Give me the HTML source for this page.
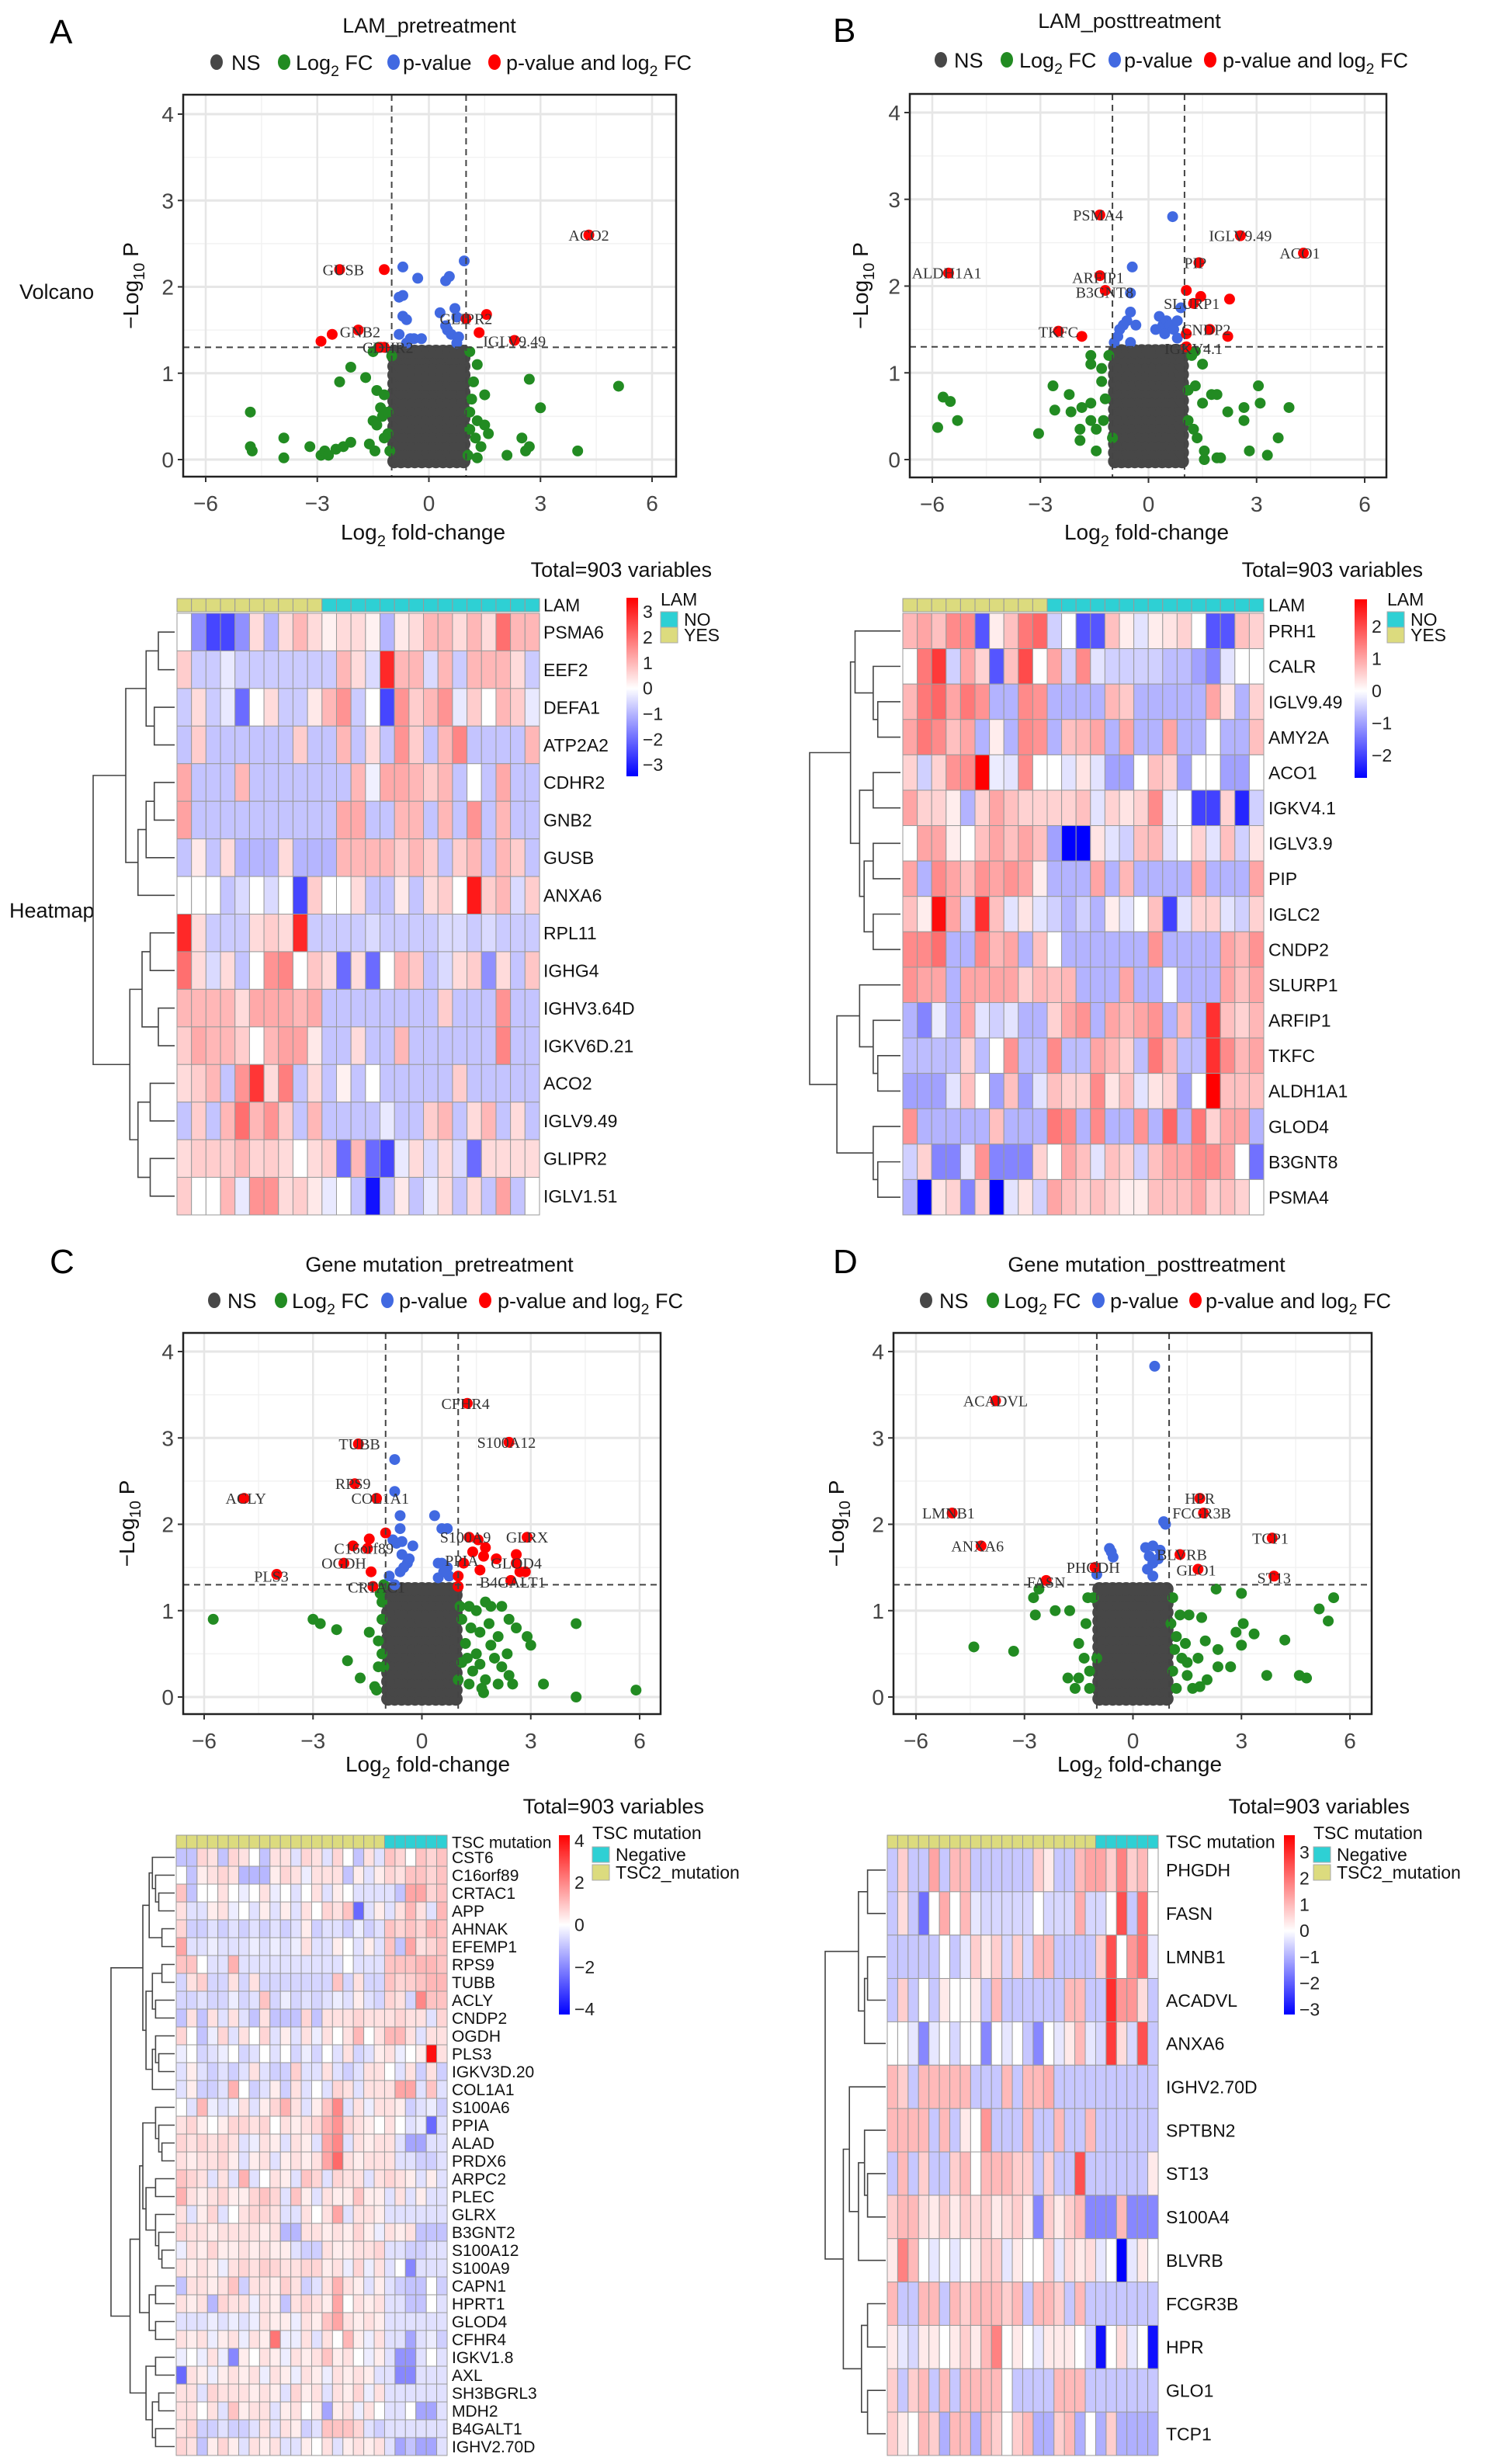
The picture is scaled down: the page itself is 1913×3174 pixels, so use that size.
<!DOCTYPE html>
<html><head><meta charset="utf-8">
<style>
html,body{margin:0;padding:0;background:#fff;}
svg{display:block;font-family:"Liberation Sans",sans-serif;}
</style></head>
<body>
<svg id="fig" xmlns="http://www.w3.org/2000/svg" width="1913" height="3174" viewBox="0 0 1913 3174">
<rect x="0" y="0" width="1913" height="3174" fill="#fff"/>
</svg>
<script>
/* ================= VOLCANO DATA ================= */
const volcanoXTicks = [-6, -3, 0, 3, 6];
const volcanoYTicks = [0, 1, 2, 3, 4];

const nsColsA = [-0.93,-0.75,-0.56,-0.38,-0.19,0,0.19,0.38,0.56,0.75,0.93];
const nsRowsA = [-0.02,0.08,0.18,0.28,0.38,0.48,0.58,0.68,0.78,0.88,0.98,1.08,1.18,1.25];
const nsColsB = [-0.93,-0.75,-0.56,-0.38,-0.19,0,0.19,0.38,0.56,0.75,0.93];
const nsRowsB = [-0.02,0.08,0.18,0.28,0.38,0.48,0.58,0.68,0.78,0.88,0.98,1.08,1.18,1.25];
const nsColsC = [-0.93,-0.75,-0.56,-0.38,-0.19,0,0.19,0.38,0.56,0.75,0.93];
const nsRowsC = [-0.02,0.08,0.18,0.28,0.38,0.48,0.58,0.68,0.78,0.88,0.98,1.08,1.18,1.25];
const nsColsD = [-0.93,-0.75,-0.56,-0.38,-0.19,0,0.19,0.38,0.56,0.75,0.93];
const nsRowsD = [-0.02,0.08,0.18,0.28,0.38,0.48,0.58,0.68,0.78,0.88,0.98,1.08,1.18,1.25];

const fcA = [[-4.8,0.55],[-4.8,0.15],[-4.75,0.1],[-3.9,0.25],[-3.9,0.02],[-3.2,0.15],[-2.9,0.05],[-2.8,0.1],[-2.7,0.05],[-2.5,0.12],[-2.3,0.15],[-2.1,0.2],[-2.4,0.9],[-2.1,1.07],[-1.7,0.95],[-1.6,0.18],[-1.45,0.1],[-1.5,0.45],[-1.4,0.8],[-1.3,0.6],[-1.2,0.75],[-1.4,0.4],[-1.25,0.5],[-1.1,0.3],[-1.2,0.25],[-1.0,1.2],[-1.5,1.25],[-1.35,1.3],[1.1,1.25],[1.3,1.1],[1.2,0.9],[1.15,0.7],[1.3,0.45],[1.1,0.35],[1.25,0.25],[1.4,0.15],[1.05,0.05],[1.5,0.4],[1.5,0.75],[1.6,0.3],[2.7,0.93],[3.0,0.6],[2.5,0.25],[2.7,0.15],[2.6,0.1],[2.1,0.05],[4.0,0.1],[5.1,0.85],[1.1,0.55],[1.3,0.02],[-1.1,0.55],[-1.05,0.1]];
const pvA = [[-0.7,2.23],[-0.3,2.1],[0.95,2.3],[0.45,2.07],[0.55,2.12],[-0.8,1.88],[-0.7,1.9],[-0.7,1.66],[-0.6,1.62],[-0.8,1.45],[-0.5,1.4],[-0.2,1.4],[-0.4,1.4],[0.3,1.7],[0.7,1.75],[0.75,1.65],[0.5,1.5],[0.6,1.45],[0.8,1.42],[0.75,1.35],[-0.6,1.35],[0.45,1.55]];
const bothA = [[4.3,2.6],[-2.4,2.2],[-1.2,2.2],[1.0,1.63],[1.55,1.68],[1.35,1.47],[2.3,1.38],[-1.9,1.5],[-2.6,1.45],[-2.9,1.37],[-1.2,1.3],[-1.3,1.3]];
const labelsA = [['ACO2',4.3,2.6],['GUSB',-2.3,2.2],['GLIPR2',1.0,1.63],['GNB2',-1.85,1.48],['CDHR2',-1.1,1.3],['IGLV9.49',2.3,1.37]];

const fcB = [[-5.7,0.72],[-5.5,0.67],[-5.85,0.37],[-5.3,0.45],[-3.05,0.3],[-2.65,0.85],[-2.6,0.57],[-2.15,0.55],[-2.2,0.75],[-1.85,0.6],[-1.6,0.65],[-1.9,0.35],[-1.9,0.22],[-1.6,0.45],[-1.45,0.35],[-1.45,0.1],[-1.3,0.9],[-1.2,0.7],[-1.1,1.2],[-1.6,1.2],[-1.3,1.05],[-1.25,0.45],[-1.0,0.25],[-1.6,1.1],[1.2,1.2],[1.5,1.1],[1.3,0.85],[1.1,0.8],[1.5,0.65],[1.75,0.75],[1.9,0.75],[2.2,0.55],[2.65,0.6],[2.65,0.45],[3.05,0.85],[3.1,0.65],[3.9,0.6],[3.6,0.25],[3.3,0.05],[2.8,0.1],[1.35,0.25],[1.55,0.1],[1.9,0.02],[2.0,0.02],[1.55,0.0],[1.1,0.45],[1.25,0.35],[1.3,1.25]];
const pvB = [[0.67,2.8],[-0.45,2.22],[-0.5,1.92],[-0.5,1.7],[-0.6,1.6],[-0.7,1.55],[-0.8,1.5],[-0.85,1.42],[-0.5,1.35],[0.3,1.65],[0.4,1.55],[0.5,1.6],[0.6,1.55],[0.2,1.5],[0.45,1.45],[0.7,1.5],[0.9,1.75],[0.8,1.6],[-0.35,1.55],[0.8,1.4],[-0.95,1.35]];
const bothB = [[-1.35,2.82],[2.55,2.58],[4.3,2.38],[1.4,2.27],[-5.55,2.15],[-1.35,2.12],[-1.2,1.95],[1.05,1.95],[1.25,1.8],[1.45,1.88],[2.25,1.85],[-2.5,1.48],[-1.85,1.42],[1.7,1.5],[1.05,1.45],[2.2,1.42],[1.05,1.3]];
const labelsB = [['PSMA4',-1.4,2.82],['IGLV9.49',2.55,2.58],['ACO1',4.2,2.38],['PIP',1.3,2.27],['ALDH1A1',-5.6,2.15],['ARFIP1',-1.4,2.1],['B3GNT8',-1.22,1.93],['SLURP1',1.2,1.8],['TKFC',-2.5,1.47],['CNDP2',1.6,1.5],['IGKV4.1',1.25,1.28]];

const fcC = [[-5.75,0.9],[-3.0,0.9],[-2.8,0.85],[-2.35,0.78],[-2.05,0.42],[-1.7,0.22],[-1.3,0.12],[-1.25,0.08],[-1.45,0.75],[-1.2,0.65],[-1.1,0.5],[-1.05,0.35],[-1.2,0.35],[-1.1,1.1],[-1.15,1.2],[-1.05,1.3],[-1.1,0.9],[1.05,1.05],[1.3,1.05],[1.5,1.0],[1.75,1.1],[1.9,1.05],[2.2,1.05],[1.1,0.9],[1.35,0.8],[1.6,0.75],[1.85,0.85],[2.1,0.7],[2.4,0.9],[2.6,0.8],[2.9,0.7],[3.0,0.6],[2.35,0.5],[2.0,0.45],[1.5,0.5],[1.25,0.45],[1.1,0.4],[1.4,0.3],[1.75,0.2],[2.1,0.15],[2.4,0.25],[2.5,0.15],[1.3,0.15],[1.7,0.05],[1.65,0.1],[3.35,0.15],[4.25,0.85],[4.25,0.0],[5.9,0.08],[1.2,0.62],[1.6,0.38],[2.2,0.35],[1.0,0.2],[1.9,0.6]];
const pvC = [[-0.75,2.75],[-0.75,2.38],[0.35,2.1],[-0.6,2.1],[-0.6,1.95],[-0.8,1.82],[-0.7,1.78],[-0.55,1.8],[-0.25,1.75],[-0.55,1.65],[-0.4,1.55],[-0.35,1.6],[-0.5,1.5],[-0.6,1.45],[-0.9,1.4],[0.55,1.95],[0.7,1.95],[0.45,1.55],[0.55,1.55],[0.7,1.5],[0.45,1.38],[0.75,1.4],[0.6,1.45],[-0.75,1.3]];
const bothC = [[1.25,3.4],[2.4,2.95],[-1.75,2.93],[-1.85,2.47],[-1.25,2.3],[-4.9,2.3],[-1.45,1.83],[-1.9,1.75],[-1.0,1.9],[-1.5,1.72],[-2.15,1.55],[-1.4,1.45],[-4.0,1.42],[-1.35,1.28],[1.3,1.85],[1.55,1.82],[2.9,1.85],[1.4,1.68],[1.75,1.73],[1.7,1.63],[2.05,1.6],[2.6,1.65],[2.6,1.55],[1.6,1.47],[2.7,1.45],[2.85,1.45],[1.0,1.4],[2.45,1.35],[1.0,1.28],[1.15,1.55]];
const labelsC = [['CFHR4',1.2,3.4],['S100A12',2.33,2.95],['TUBB',-1.72,2.93],['RPS9',-1.9,2.47],['COL1A1',-1.15,2.3],['ACLY',-4.85,2.3],['C16orf89',-1.6,1.72],['OGDH',-2.15,1.55],['PLS3',-4.15,1.4],['CRTAC1',-1.25,1.27],['S100A9',1.2,1.85],['GLRX',2.9,1.85],['PPIA',1.1,1.58],['GLOD4',2.6,1.55],['B4GALT1',2.5,1.33]];

const fcD = [[-4.4,0.58],[-3.3,0.53],[-2.75,1.15],[-2.7,0.95],[-2.15,1.0],[-1.75,1.0],[-2.6,1.25],[-1.25,1.15],[-1.1,1.15],[-1.3,0.85],[-1.5,0.62],[-1.35,0.45],[-1.2,0.3],[-1.5,0.22],[-1.8,0.22],[-1.2,0.1],[-1.0,0.45],[-1.6,0.1],[1.1,1.15],[1.3,0.95],[1.05,0.85],[1.2,0.7],[1.15,0.55],[1.35,0.45],[1.1,0.3],[1.5,0.4],[1.5,0.25],[1.2,0.1],[1.65,0.1],[1.85,0.12],[2.05,0.2],[2.3,1.25],[2.0,0.65],[1.8,0.45],[2.35,0.55],[2.35,0.35],[2.7,0.35],[3.0,1.2],[3.05,0.85],[2.85,0.75],[3.35,0.73],[3.0,0.6],[4.2,0.66],[3.7,0.25],[4.6,0.25],[4.8,0.22],[5.15,1.02],[5.4,0.88],[5.55,1.15],[1.55,0.95],[1.9,0.92],[1.45,0.62]];
const pvD = [[0.6,3.83],[0.85,2.03],[0.9,2.0],[-0.65,1.72],[-0.55,1.62],[-0.6,1.68],[0.35,1.73],[0.55,1.75],[0.75,1.7],[0.45,1.63],[0.55,1.55],[0.4,1.48],[0.55,1.4],[-1.0,1.42],[0.7,1.6]];
const bothD = [[-3.8,3.43],[1.85,2.3],[1.95,2.13],[-5.0,2.13],[3.85,1.84],[-4.2,1.75],[1.3,1.65],[1.8,1.48],[-1.05,1.5],[3.9,1.4],[-2.4,1.35]];
const labelsD = [['ACADVL',-3.8,3.43],['HPR',1.85,2.3],['FCGR3B',1.9,2.13],['LMNB1',-5.1,2.13],['TCP1',3.8,1.84],['ANXA6',-4.3,1.75],['BLVRB',1.35,1.65],['GLO1',1.75,1.47],['PHGDH',-1.1,1.5],['ST13',3.9,1.38],['FASN',-2.4,1.33]];

/* ================= HEATMAP DATA ================= */
const hmAGenes = ['PSMA6','EEF2','DEFA1','ATP2A2','CDHR2','GNB2','GUSB','ANXA6','RPL11','IGHG4','IGHV3.64D','IGKV6D.21','ACO2','IGLV9.49','GLIPR2','IGLV1.51'];
const hmAGroups = ['YES','YES','YES','YES','YES','YES','YES','YES','YES','YES','NO','NO','NO','NO','NO','NO','NO','NO','NO','NO','NO','NO','NO','NO','NO'];
const hmAValues = [
[0,-1.5,-2.5,-2.5,-1.5,0.5,-1,0.5,1,0.5,0.2,0.5,0.5,0.2,-1,0.3,0.5,1,1,0.5,1,0.5,2,1,1],
[0.7,-0.7,-0.7,-0.3,-0.7,-0.7,-0.7,-0.7,-0.7,-0.7,-0.7,1,0.5,-0.5,3,1,1,-0.5,1,-0.7,1,1,1,0.5,-0.7],
[-0.7,0.5,-0.7,-0.3,-2,0,0.5,-0.7,-0.7,0.3,1,1.5,-0.7,0,-2.5,1.5,0.7,1,1.5,-0.3,0.7,0,1,0.7,-0.3],
[-0.8,0.7,-0.8,-0.8,-0.8,-0.8,-0.8,-0.8,0.7,-0.8,-0.8,1,-0.8,0.5,-0.8,1.5,0.7,-0.8,1,1.7,-0.8,-0.8,-0.8,-0.8,1],
[1.2,-0.8,-0.8,-0.8,1,-0.8,-0.8,-0.8,-0.8,-0.8,-0.8,-0.8,1,-0.2,1.2,1.2,1,0.7,1,-0.8,0,-0.8,1.2,-0.8,-0.8],
[1.3,-0.8,-0.8,-0.8,-0.8,-0.8,-0.8,-0.8,-0.8,-0.8,-0.8,1.2,1.2,-0.8,-0.8,1,1,-0.8,1,-0.8,1.5,-0.8,1,-0.8,-0.8],
[-0.8,0.3,-0.8,0.5,-1,-1,-1,0.5,-1,-1,-1,1,1,1,1,0.7,1,0.7,-0.8,0.7,1,-0.8,1,0.7,-0.8],
[0,0,0,-0.8,-0.5,0,-0.5,0,-2.5,0.7,0,0,0.5,-0.8,-0.8,0.3,-0.8,0.5,0.7,0,3.2,0.7,1,-0.5,0.7],
[3,0.5,-0.7,-0.7,-0.7,0.5,0.7,0.5,3,-0.7,-0.7,-0.7,-0.7,-0.5,-0.7,-0.7,-0.7,-0.7,-0.5,-0.5,-0.7,-0.5,-0.7,-0.7,-0.7],
[2,0.5,-0.5,0.5,-0.8,0,1.5,1.7,0,0.8,0.5,-2,0.5,-2,0,1,0.8,-0.8,-0.5,0.5,0.7,-1.5,0.5,-0.8,0.8],
[1,1,1,1,0.5,1.2,1.2,1.2,1,1.2,-0.8,-0.8,-0.8,-0.8,-0.8,-0.8,-0.8,-0.8,0.7,-0.8,-0.8,-0.8,1.5,-0.8,-0.8],
[0.7,1.2,1,1,0.7,0,1,1.3,1.3,0.3,-0.8,-0.8,0.5,-0.8,-0.8,1,-0.8,-0.8,-0.8,-0.8,-0.8,-0.8,1.7,-0.8,-0.8],
[0.5,0.7,1,-0.8,1.5,2.8,0.5,1.8,-0.8,0.5,-0.8,0.2,-0.8,0,-0.8,-0.8,-0.8,-0.8,-0.8,0.7,-0.8,-0.8,-0.8,-0.8,-0.8],
[-0.8,0.7,-0.8,1,2,1,1.5,0.7,-0.8,1,-0.8,-0.8,-0.8,-0.8,-0.3,-0.8,-0.8,0.7,1,-0.8,0.5,1,-0.8,0.5,-0.8],
[0.5,0.7,0.7,0.7,1,0.6,0.7,0.5,0,0.5,0.7,-2,1,-2,-2.5,-0.3,0.5,-0.5,0.5,-0.5,-2,0.5,0.5,0.5,0.5],
[0.7,0,0,1,-0.3,1.5,1.5,0.5,0.7,0.3,-0.3,0,-0.8,-3.2,-0.8,0.3,-0.8,-0.3,0.5,-0.8,0.5,-0.8,1.3,-0.8,0]
];
const hmAGaps = [0.2,0.35,0.25,0.6,0.25,0.35,0.45,1.0,0.3,0.4,0.2,0.55,0.3,0.45,0.3];
const hmATicks = [3,2,1,0,-1,-2,-3];

const hmBGenes = ['PRH1','CALR','IGLV9.49','AMY2A','ACO1','IGKV4.1','IGLV3.9','PIP','IGLC2','CNDP2','SLURP1','ARFIP1','TKFC','ALDH1A1','GLOD4','B3GNT8','PSMA4'];
const hmBGroups = ['YES','YES','YES','YES','YES','YES','YES','YES','YES','YES','NO','NO','NO','NO','NO','NO','NO','NO','NO','NO','NO','NO','NO','NO','NO'];
const hmBValues = [
[0.8,1,0.7,1.3,1.3,-1.8,0.2,0.7,1.5,1.7,-0.5,0,-1.8,-1.8,0.7,0.2,-0.3,0.2,0.3,0.5,0,-1.8,-1.8,0.7,0.5],
[0,1.5,2.2,-0.5,1,0.5,-1.8,0.7,2,0,1,-0.5,1.3,-0.3,-0.5,-0.5,-0.5,-0.5,-0.7,-0.7,-1,-1.3,-0.3,0,0],
[0.8,1.5,1.7,1,1.5,1.2,-0.8,-0.8,1.3,1.2,-0.8,-0.8,-0.8,-0.8,0.8,0.6,-0.8,-0.8,-0.8,-0.8,-0.8,1,0.3,-0.8,0.5],
[1,1.5,1.3,0.7,1,-0.8,0.2,-0.8,1.3,1.2,-0.8,0.7,0.8,1,-0.8,1,-0.8,-0.8,1,-0.8,-0.8,0,-0.8,-0.8,0.7],
[0.5,-0.5,0.5,1.2,1.3,3,-0.2,-0.3,1.3,0,0,-0.3,0.3,-0.3,-1,-1,0,0.7,0.5,-1,0,0,-1,-1,0],
[1,0.5,0.5,0.2,-0.8,0.5,1,0.7,0.5,0.5,0.5,0.5,0.7,-0.3,0.5,0.3,0.5,1.3,-0.2,0,-2,-2,0.5,-2.3,-0.5],
[0,1,1,0.2,0,0.7,1,0.7,1,0.7,-1,-2.7,-2.7,0.3,-0.3,-0.5,0.7,0.8,-0.3,0,0.5,-0.3,0.7,-0.5,0.3],
[1,-0.8,1.3,1,0.7,1.2,1,1.2,1,0.2,-0.8,-0.8,-0.8,1,-0.8,0.8,-0.8,-0.8,-0.8,-0.8,1,-0.8,-0.8,-0.8,1],
[0.7,0.2,2.7,1,-0.5,2.3,0.7,-0.3,0.3,-0.3,-0.5,-0.8,-0.5,-0.8,0.2,-0.3,0,0.7,-2,-0.3,0.5,0.5,-0.3,-0.5,0.5],
[1.3,1.3,1.6,-0.8,-0.8,1.3,0.8,1,-0.8,0.7,0,-0.8,-0.8,-0.8,-0.8,-0.8,-0.8,1.2,-0.8,-0.8,-0.8,-0.8,1,0.8,1.2],
[1.2,1,1,-0.8,1,1,1,1,0.5,0.8,0.7,0.8,-0.8,-0.8,-0.8,1,-0.8,-0.8,0,-0.8,-0.8,-0.8,1,0.7,1],
[-0.8,-1.3,-0.2,-0.8,1,-0.3,-0.5,-0.3,-0.8,-0.8,0.5,1,1.2,-0.8,1,0.8,1,1.2,-0.8,0.8,-0.8,2.3,0.7,0.5,0.8],
[-0.7,-0.7,-0.7,-0.7,0.5,-0.7,0,1.2,-0.7,-0.7,1.3,-0.7,-0.7,1,0.8,0.5,-0.7,1.5,0.8,-0.7,-0.7,2.3,1.3,0.8,1],
[-1,-1,-1,-0.3,0.7,0,-1,0.7,-1,-0.3,0.7,0.5,0.5,1.3,0.3,0.7,-0.3,0.3,0.5,-1,0,3,0.7,0.7,0.7],
[1.2,-0.8,-0.8,-0.8,-0.8,-0.8,0.7,-0.8,-0.8,-0.8,1.5,1.3,-0.8,1.3,-0.8,-0.8,1.2,-0.8,1.7,-0.8,1.5,0.5,1,1,-0.8],
[-0.5,0.5,-1.3,-1.3,-0.3,1.2,-1.3,-1.3,-1.3,0.5,0,1,0.7,-0.3,0.7,0.5,-0.5,0.7,1,1,1.3,1.3,1,0,-1.5],
[-0.8,-2.8,0.3,0.5,-1.3,0.5,-2.8,-0.3,0.3,-0.5,1,0.7,0.5,0.7,0.5,0.2,0.2,0.7,0.7,0.7,1,0.5,0.7,0.5,0]
];
const hmBGaps = [0.5,0.3,0.25,0.55,0.3,0.45,0.3,0.4,0.3,1.0,0.45,0.3,0.25,0.7,0.3,0.25];
const hmBTicks = [2,1,0,-1,-2];

const hmCGenes = ['CST6','C16orf89','CRTAC1','APP','AHNAK','EFEMP1','RPS9','TUBB','ACLY','CNDP2','OGDH','PLS3','IGKV3D.20','COL1A1','S100A6','PPIA','ALAD','PRDX6','ARPC2','PLEC','GLRX','B3GNT2','S100A12','S100A9','CAPN1','HPRT1','GLOD4','CFHR4','IGKV1.8','AXL','SH3BGRL3','MDH2','B4GALT1','IGHV2.70D'];
const hmCGroups = ['TSC2_mutation','TSC2_mutation','TSC2_mutation','TSC2_mutation','TSC2_mutation','TSC2_mutation','TSC2_mutation','TSC2_mutation','TSC2_mutation','TSC2_mutation','TSC2_mutation','TSC2_mutation','TSC2_mutation','TSC2_mutation','TSC2_mutation','TSC2_mutation','TSC2_mutation','TSC2_mutation','TSC2_mutation','TSC2_mutation','Negative','Negative','Negative','Negative','Negative','Negative'];
const hmCValues = [
[-1,-1,0.7,0.5,-1,0.7,0.5,0,-1,0.5,0.5,-0.5,0.7,0.5,-0.5,0.7,0,-1,0.5,-0.5,1,0.7,0,1,0.7,1],
[0,-1,0.3,0.5,0.7,0.5,-1.2,-1.2,-1.2,0.3,0.7,0.5,-0.3,0.5,0.5,0.5,-1,0.3,-0.5,0.3,0.7,0.5,1,1,0.7,1],
[1,-1,0,0,0.5,0,-0.3,0,0.5,-0.3,0,-0.5,0,0.5,-0.5,0.3,0,-0.5,-0.5,-0.5,-0.5,-1,1.5,1.5,0.7,1],
[0.5,-0.5,-0.5,0.3,0.5,-0.3,0,-0.5,0.3,-0.5,0.3,-0.5,0.5,0,0.7,0.5,1,-2.5,-0.5,0.3,-0.5,0.5,1.2,0.5,-0.5,1.2],
[0.7,-0.8,-0.8,-0.5,-0.8,-0.5,-0.8,-0.5,-0.8,-0.5,-0.8,-0.5,0.3,-0.8,-0.5,-0.5,-0.8,-0.3,-0.8,-0.5,1,0.7,1,0.7,1.2,1],
[1.5,-0.5,-0.5,-0.3,-0.5,-0.5,-0.5,-0.3,-0.5,-0.3,-0.5,-0.3,0.5,-0.5,-0.5,0.3,0,-0.5,0.3,-0.5,1,-1,1.5,0.5,0.7,1],
[1,1,0,-0.5,-0.5,1.3,-0.5,-0.5,-0.5,-0.5,-0.5,-0.5,-0.5,-0.5,-0.5,-0.5,0,-0.5,-0.5,-0.5,1,1,1,1.2,1.2,1],
[-0.7,0.5,0.8,-0.7,-0.7,0.5,-0.7,0.5,-0.7,-0.7,-0.7,-0.7,-0.7,-0.7,-0.7,1,-0.7,0.5,-0.7,-0.7,1,0.7,0.8,1,1.2,1.2],
[-0.7,-0.7,-0.5,-0.7,-0.7,-0.3,-0.7,-0.5,1,-0.7,-0.3,-0.7,-0.5,-0.7,-0.5,-0.3,-0.5,0.3,-0.5,-0.7,0.7,0.5,-0.7,2,1,1],
[-1,0.5,-1,0.5,-0.5,0.5,-0.5,-1,0.5,-1,-1,-1,0.7,-1,0.5,0.5,0.5,0.7,0.5,0.5,0.5,0.7,0.5,0.5,-0.5,0.7],
[0.7,0,-1,-0.3,0.7,-0.5,0.5,0,0.7,-0.5,0.3,-0.5,0.5,-0.3,0.5,0,0.5,1.2,0,0.5,1.2,1.2,0.5,-0.5,0.5,0.5],
[-0.3,0,-0.7,-0.5,-0.3,0,-0.7,-0.5,0,-0.5,0,-0.7,-0.3,-0.7,0,-0.5,0.5,-0.7,-0.5,0.3,0.5,-0.3,0,0.3,4,0.5],
[-0.5,0.3,-0.5,-0.8,-0.5,-0.8,-0.5,0.5,-0.5,-0.8,-0.8,0.8,-0.5,-0.5,0.5,-0.5,-0.8,-0.5,0.5,0.5,0,-0.5,0.5,-0.8,0.5,-0.8],
[-0.5,0.3,-0.8,-0.8,-0.5,1.3,0,-0.8,-0.5,0.3,-0.8,0.5,-0.5,0,-0.5,0.7,0.5,-0.5,0.5,0.5,0.5,1.5,1.5,-0.5,1,-0.5],
[0,-0.5,1.2,-0.3,-0.5,-0.3,0.5,-0.5,0.3,0.7,1.3,0.5,-0.5,0.3,1,2,-0.5,0.5,-0.3,0.5,0.5,0.3,-0.8,-0.5,-0.3,-0.8],
[0.5,0.7,0.3,0,0.3,0.7,0.7,0.5,0.7,0,0.5,0.3,0.5,0.7,1.3,1.8,0.7,0.5,0.3,0,0.5,0,-0.5,-0.3,-2.5,-0.5],
[0.7,0.5,0.7,0.5,0.7,0.5,-0.5,-0.3,0.5,0.3,-0.5,0.5,0.3,-0.5,1.5,2,-0.5,0.5,0.3,0.5,0.5,-0.5,-1.5,-1.5,-0.5,-0.5],
[0.5,0.3,0.5,0.5,0.7,0.3,-0.5,0.3,0.5,-0.5,0.3,0.5,0.3,0.5,1.5,2.5,0.5,0.3,0.5,0.5,0.5,-0.5,-0.5,-0.8,-0.8,-0.5],
[1,0.7,0.5,-0.5,0.5,-0.5,1.3,-0.5,0,0.5,0.3,-0.5,1,0.7,-0.5,0.7,0.5,0.5,-0.5,0.5,0.7,0.5,0.3,-0.5,0.3,-0.5],
[1.3,0.5,0.3,0.5,0.7,0.3,0.3,0.7,1,0.7,-0.5,1,0.3,-0.5,0.5,0.3,0.3,1,0.3,0.3,-0.5,0.5,-0.5,0.3,-0.5,-0.5],
[0.5,-0.5,0.3,0.7,-0.5,0,0.5,0.7,0.7,0.5,-0.5,-0.5,0.5,0,0.5,1.5,-0.5,0.5,0.5,0.3,-0.5,-0.5,-0.5,-0.5,-0.5,-0.5],
[0.7,0.5,0.5,0.3,0.5,0.5,0.5,0.5,0.3,0.5,-1.2,-1.2,0.5,0.5,0.3,0.5,0.3,0.7,0.3,-0.3,0.5,0.3,0.5,-1,-1,-1],
[-0.3,0.5,0.3,0.7,0.3,0.3,0.5,0.3,0.5,0.3,0.3,-0.5,-0.8,-0.8,0.5,0.3,0.3,0.5,0.5,0.7,-0.5,-0.5,-0.8,-0.8,-0.5,-0.5],
[0.5,0.3,0.5,0.3,-0.3,0.5,0.7,0.5,0.8,0.7,0.5,0.5,0.7,0.7,0.3,0.5,-0.3,0.7,-0.3,0.5,-0.5,0,-2,-0.5,-0.5,-0.5],
[-1,0.5,0.5,0.3,0.5,1,-0.8,0.5,0.5,0.3,0.8,0.5,-0.8,-0.5,0.5,1.3,0.5,0.3,-0.5,0.3,-0.5,-0.8,-1,-1,0,-0.8],
[0.5,0.3,0.5,-1.2,0.7,0.5,0.5,-0.3,0.5,0.3,-1,0.5,0.7,0.5,0.3,1.5,0,0.5,0.3,0.5,-0.5,-0.5,-1,-1,0,-0.5],
[-0.5,-0.5,-0.5,-0.3,-0.5,-0.3,-0.5,-0.3,0.5,0.3,0.3,-0.3,0.5,0.3,1,1.5,0.5,0.3,0.5,0.3,-0.5,-0.5,-0.5,-0.5,-0.5,-0.5],
[0.5,0.3,0.5,-0.3,0.3,0.5,-0.3,0.5,0.3,2.3,-0.3,-0.3,0.5,-0.5,0.5,0,1.2,0.3,-0.3,0.5,-0.5,-0.5,-1.5,-0.5,-0.3,-0.8],
[-0.3,0,-0.3,0.5,-0.3,-2,0.3,0,0.5,0.3,-0.3,0.5,0.3,0.5,1,0.3,0.5,0,-0.3,0.3,-0.5,-1.8,-1.8,-0.5,0,-0.5],
[-2.5,0.5,0.3,-0.3,0.3,0.5,0.3,0.5,-0.3,0.5,0.3,-0.3,0.5,0.3,-0.3,0.5,0.3,0.5,0.3,-0.5,-0.5,-2,-2,-0.5,-0.5,-0.5],
[0.5,0.5,-0.5,0.7,0.5,0.5,0.5,0.3,0.5,0.3,-0.5,0.7,0.3,0.5,-0.5,0.5,0.3,0.7,-0.3,0.5,-0.5,-0.5,-0.5,-0.5,-0.5,-0.5],
[0.5,0.5,0,0.5,-0.5,1,0.3,0.5,0.5,-0.5,0.3,0.5,0,0.3,-1.5,0.3,0.5,-0.3,0.5,0,-0.5,-0.5,0,-1.5,-1.5,-0.5],
[0.5,0.7,-0.8,-0.8,-0.5,-0.8,-0.8,-0.5,0.5,-0.5,0.5,0.3,-0.8,-0.5,1,1,1,0.7,-0.5,-0.8,-0.5,-0.5,-0.5,-0.5,-0.5,-0.5],
[0.7,0.5,-1,0.3,0.7,0.3,-0.5,0.5,0.3,0.5,-0.5,-0.5,0.3,0,0.5,-0.5,0.3,0.5,0.3,0.5,-0.5,-1.5,-1,-1.5,-1.5,-0.5]
];
const hmCGaps = [0.35,0.3,0.25,0.4,0.2,0.5,0.2,0.35,0.3,0.45,0.3,0.25,0.35,1.0,0.3,0.25,0.2,0.5,0.3,0.45,0.3,0.25,0.2,0.55,0.3,0.4,0.3,0.7,0.3,0.45,0.25,0.35,0.3];
const hmCTicks = [4,2,0,-2,-4];

const hmDGenes = ['PHGDH','FASN','LMNB1','ACADVL','ANXA6','IGHV2.70D','SPTBN2','ST13','S100A4','BLVRB','FCGR3B','HPR','GLO1','TCP1'];
const hmDGroups = hmCGroups.slice();
const hmDValues = [
[-0.7,0.7,-0.7,-0.7,1.3,-0.7,1,1,-0.7,-0.7,-0.7,-0.7,-0.7,-0.7,0.7,0.3,-0.7,-0.7,1,1.3,1.3,0.7,1.8,0.7,1,0],
[-0.7,0.5,-0.7,-1.8,0,1.2,0,1,-0.3,-0.5,-0.5,-0.5,-0.5,-0.5,0,-0.5,-0.5,-0.5,1.2,-0.5,-0.5,0,2.5,-0.7,2,0],
[-0.7,-0.7,-0.7,-0.7,-0.7,0,-0.7,-0.3,0.7,0.3,0.7,-0.5,0.7,-0.5,1,1,-0.7,-0.7,-0.7,-0.7,0.7,2.5,0,1.5,2,-0.3],
[-0.7,0.7,-0.7,0,-0.7,0.3,0,0,0.3,-0.7,1,-0.7,-0.7,-0.7,-0.7,-0.7,-0.7,1,1,-0.7,-0.7,3,1.5,1.5,0.5,-0.7],
[0,0,-0.3,-1.5,-0.3,0,-0.5,0,0,-1.5,0,-0.3,0,-0.7,-1.5,0,-0.3,0.3,1,-0.3,-0.5,2.8,0.5,-0.5,2.5,-0.7],
[1,0.7,-0.7,1,1,1,1,1,-0.7,-0.7,-0.7,1,-0.7,1,1,1.2,-0.7,-0.7,-0.7,-0.7,-0.7,-0.7,-0.7,-0.7,-0.7,-0.7],
[1,1,1,1,-0.7,1,-0.7,0.3,0,1.5,-0.7,-0.7,-0.7,1,-0.7,-0.7,1,-0.7,-0.7,1,-0.7,-0.7,-0.7,-0.7,-0.7,-0.7],
[-0.7,1,-0.7,0.7,-0.7,-0.7,0.7,1,0,1,1,1,0.7,0.7,-0.7,0.7,-0.7,-0.7,2.5,-0.7,-0.7,-0.7,-0.7,-0.7,-0.7,0.3],
[0.7,1,1,0.5,0.3,0.7,0.3,0.7,0.5,0.7,0.3,0.5,0.7,0.3,-1.5,0.7,0.3,0.7,1,-1.5,-1.5,-1.5,1,-1.5,-1.5,-1.5],
[0.3,1.8,1,0,-0.3,0,-0.3,0,0.3,0.7,0.7,-0.3,0.3,0,0,0.7,-0.3,0.5,0.3,0.5,-0.3,0,-3.2,-0.3,0.3,0],
[1,-0.7,-0.7,1,1,-0.7,1,0.7,1,1,1,0.7,1,-0.7,1,1,0.7,-0.7,1,-0.7,-0.7,-0.7,-0.7,-0.7,-0.7,-0.7],
[0.3,-0.3,-0.5,0.3,0.3,0,0.3,0.7,0.3,1,1.8,0,0.3,0,-0.3,0.3,0.3,0.3,0,-0.5,-3,0,0.5,-0.3,0,-3],
[0.7,-0.7,0.7,1,-0.7,1,-0.7,1,1,1,1,0,-0.7,-0.7,-0.7,-0.7,1,1,1,-0.7,-0.7,-0.7,-0.7,-0.7,-0.7,-0.7],
[0.7,0.3,0,1,0.7,-1,1,1,-1,1,0.7,0,0.7,1,-1,-1,0.7,1,-1,0,-1,0.7,-1,-1,-1,-1]
];
const hmDGaps = [0.3,0.45,0.3,0.35,1.0,0.6,0.35,0.3,0.45,0.7,0.3,0.4,0.3];
const hmDTicks = [3,2,1,0,-1,-2,-3];

/* ================= RENDERING ================= */
const SVGNS = 'http://www.w3.org/2000/svg';
const svg = document.getElementById('fig');
const COL = {ns:'#474747', fc:'#228B22', pv:'#4169E1', both:'#FF0000'};
const GROUPCOL = {YES:'#DCDB7E', NO:'#2ED0D4', TSC2_mutation:'#DCDB7E', Negative:'#2ED0D4'};

function mk(tag, attrs, parent) {
  const e = document.createElementNS(SVGNS, tag);
  for (const k in attrs) e.setAttribute(k, attrs[k]);
  (parent || svg).appendChild(e);
  return e;
}
function txt(str, attrs, parent) {
  const e = mk('text', attrs, parent);
  e.textContent = str;
  return e;
}
function linScale(d0, d1, p0, p1) { return v => p0 + (v - d0) * (p1 - p0) / (d1 - d0); }

function log2Text(parent, x, y, size, anchor, prefix, suffix, name) {
  const t = mk('text', {x:x, y:y, 'font-size':size, fill:'#111', 'text-anchor':anchor}, parent);
  
  
  const a = mk('tspan', {}, t); a.textContent = prefix;
  const b = mk('tspan', {dy: size*0.3, 'font-size': size*0.72}, t); b.textContent = '2';
  const c = mk('tspan', {dy: -size*0.3}, t); c.textContent = suffix;
  return t;
}

const volcanoPanels = [
  {key:'a', letter:'A', letterX:64, letterY:56, title:'LAM_pretreatment', titleX:553, titleY:42, legY:80, legX:[279,298,366,381,507,519,637,652],
   box:[236,122,871,614], xAt:[265,840], yAt:[592,147], ytX:168, xtX:545, xtY:695, nsCols:nsColsA, nsRows:nsRowsA, fc:fcA, pv:pvA, both:bothA, labels:labelsA},
  {key:'b', letter:'B', letterX:1073, letterY:54, title:'LAM_posttreatment', titleX:1455, titleY:36, legY:77, legX:[1212,1229,1297,1313,1436,1448,1559,1575],
   box:[1172,121,1786,615], xAt:[1201,1758], yAt:[592,145], ytX:1108, xtX:1477, xtY:695, nsCols:nsColsB, nsRows:nsRowsB, fc:fcB, pv:pvB, both:bothB, labels:labelsB},
  {key:'c', letter:'C', letterX:64, letterY:1640, title:'Gene mutation_pretreatment', titleX:566, titleY:1638, legY:1675, legX:[276,293,362,376,499,514,625,641],
   box:[236,1717,851,2208], xAt:[263,824], yAt:[2186,1741], ytX:163, xtX:551, xtY:2282, nsCols:nsColsC, nsRows:nsRowsC, fc:fcC, pv:pvC, both:bothC, labels:labelsC},
  {key:'d', letter:'D', letterX:1073, letterY:1640, title:'Gene mutation_posttreatment', titleX:1477, titleY:1638, legY:1675, legX:[1193,1210,1279,1293,1415,1430,1540,1553],
   box:[1151,1717,1767,2208], xAt:[1180,1739], yAt:[2186,1741], ytX:1077, xtX:1468, xtY:2282, nsCols:nsColsD, nsRows:nsRowsD, fc:fcD, pv:pvD, both:bothD, labels:labelsD}
];

function drawVolcano(p) {
  const g = mk('g', {});
  
  
  const X = linScale(-6, 6, p.xAt[0], p.xAt[1]);
  const Y = linScale(0, 4, p.yAt[0], p.yAt[1]);
  const [L, T, R, B] = p.box;

  const letter = txt(p.letter, {x:p.letterX, y:p.letterY, 'font-size':44, fill:'#000'}, g);
  
  
  const title = txt(p.title, {x:p.titleX, y:p.titleY, 'font-size':27, fill:'#111', 'text-anchor':'middle'}, g);
  
  

  const lg = mk('g', {}, g);
  
  
  const lcols = [COL.ns, COL.fc, COL.pv, COL.both];
  for (let i = 0; i < 4; i++) {
    const d = mk('ellipse', {cx:p.legX[i*2], cy:p.legY, rx:8, ry:10, fill:lcols[i]}, lg);
    
    
  }
  const ty = p.legY + 10;
  const l1 = txt('NS', {x:p.legX[1], y:ty, 'font-size':27, fill:'#111'}, lg);
  
  
  log2Text(lg, p.legX[3], ty, 27, 'start', 'Log', ' FC', 'legend-entry-log2fc');
  const l3 = txt('p-value', {x:p.legX[5], y:ty, 'font-size':27, fill:'#111'}, lg);
  
  
  log2Text(lg, p.legX[7], ty, 27, 'start', 'p-value and log', ' FC', 'legend-entry-both');

  const minorX = [-4.5, -1.5, 1.5, 4.5], minorY = [0.5, 1.5, 2.5, 3.5];
  minorX.forEach(v => mk('line', {x1:X(v), x2:X(v), y1:T, y2:B, stroke:'#f2f2f2', 'stroke-width':1.5}, g));
  minorY.forEach(v => mk('line', {x1:L, x2:R, y1:Y(v), y2:Y(v), stroke:'#f2f2f2', 'stroke-width':1.5}, g));
  volcanoXTicks.forEach(v => mk('line', {x1:X(v), x2:X(v), y1:T, y2:B, stroke:'#e6e6e6', 'stroke-width':2.5}, g));
  volcanoYTicks.forEach(v => mk('line', {x1:L, x2:R, y1:Y(v), y2:Y(v), stroke:'#e6e6e6', 'stroke-width':3}, g));

  const pts = mk('g', {}, g);
  
  
  p.nsRows.forEach(yv => p.nsCols.forEach(xv => {
    const c = mk('circle', {cx:X(xv), cy:Y(yv), r:9, fill:COL.ns}, pts);
    
    
  }));
  const groups = [[p.fc, COL.fc, 'point-log2fc'], [p.pv, COL.pv, 'point-pvalue'], [p.both, COL.both, 'point-significant']];
  groups.forEach(([arr, color, nm]) => arr.forEach(([xv, yv]) => {
    const c = mk('circle', {cx:X(xv), cy:Y(yv), r:7, fill:color}, pts);
    
    
  }));

  [-1, 1].forEach(v => {
    const ln = mk('line', {x1:X(v), x2:X(v), y1:T, y2:B, stroke:'#444', 'stroke-width':2, 'stroke-dasharray':'8 6'}, g);
    
    
  });
  const hl = mk('line', {x1:L, x2:R, y1:Y(1.3), y2:Y(1.3), stroke:'#444', 'stroke-width':2, 'stroke-dasharray':'8 6'}, g);
  
  

  p.labels.forEach(([nm, xv, yv]) => {
    const t = txt(nm, {x:X(xv), y:Y(yv) + 7, 'font-size':20, fill:'#333', 'text-anchor':'middle', 'font-family':'"Liberation Serif", serif'}, g);
    
    
  });

  const fr = mk('rect', {x:L, y:T, width:R-L, height:B-T, fill:'none', stroke:'#222', 'stroke-width':2.5}, g);
  
  

  volcanoXTicks.forEach(v => {
    mk('line', {x1:X(v), x2:X(v), y1:B, y2:B+7, stroke:'#333', 'stroke-width':2}, g);
    const t = txt(v < 0 ? '\u2212' + Math.abs(v) : String(v), {x:X(v), y:B+44, 'font-size':28, fill:'#444', 'text-anchor':'middle'}, g);
    
    
  });
  volcanoYTicks.forEach(v => {
    mk('line', {x1:L-7, x2:L, y1:Y(v), y2:Y(v), stroke:'#333', 'stroke-width':2}, g);
    const t = txt(String(v), {x:L-12, y:Y(v)+10, 'font-size':28, fill:'#444', 'text-anchor':'end'}, g);
    
    
  });

  log2Text(g, p.xtX, p.xtY, 28, 'middle', 'Log', ' fold-change', 'x-axis-title');
  const cy = (T + B) / 2;
  const yt = mk('text', {x:0, y:0, 'font-size':28, fill:'#111', 'text-anchor':'middle', transform:'translate(' + (p.ytX + 10) + ',' + cy + ') rotate(-90)'}, g);
  
  
  const s1 = mk('tspan', {}, yt); s1.textContent = '\u2212Log';
  const s2 = mk('tspan', {dy:8, 'font-size':20}, yt); s2.textContent = '10';
  const s3 = mk('tspan', {dy:-8}, yt); s3.textContent = ' P';
}
volcanoPanels.forEach(drawVolcano);

const vLab = txt('Volcano', {x:25, y:385, 'font-size':27, fill:'#111'});


const hLab = txt('Heatmap', {x:12, y:1182, 'font-size':27, fill:'#111'});



function heatColor(v, vmin, vmax) {
  let r, gg, b, a;
  if (v >= 0) { a = Math.min(1, v / vmax); r = 255; gg = b = Math.round(255 * (1 - a)); }
  else { a = Math.min(1, v / vmin); b = 255; r = gg = Math.round(255 * (1 - a)); }
  return 'rgb(' + r + ',' + gg + ',' + b + ')';
}

const heatmaps = [
  {key:'a', genes:hmAGenes, groups:hmAGroups, values:hmAValues, gaps:hmAGaps, ticks:hmATicks, x0:228, x1:695, ann:[771,788], y0:790, y1:1565,
   labelX:700, labelSize:23, dendro:[120,225], cbar:[807,822,770,1000], vmin:-3.45, vmax:3.55, annName:'LAM', legX:851, legTitleY:780, legBoxY:[788,808],
   legItems:['NO','YES'], totalX:917, totalY:743},
  {key:'b', genes:hmBGenes, groups:hmBGroups, values:hmBValues, gaps:hmBGaps, ticks:hmBTicks, x0:1163, x1:1628, ann:[771,788], y0:790, y1:1565,
   labelX:1634, labelSize:23, dendro:[1043,1160], cbar:[1745,1761,772,1002], vmin:-2.7, vmax:2.84, annName:'LAM', legX:1787, legTitleY:780, legBoxY:[788,808],
   legItems:['NO','YES'], totalX:1833, totalY:743},
  {key:'c', genes:hmCGenes, groups:hmCGroups, values:hmCValues, gaps:hmCGaps, ticks:hmCTicks, x0:227, x1:576, ann:[2364,2381], y0:2381, y1:3163,
   labelX:582, labelSize:21, dendro:[143,225], cbar:[720,734,2364,2595], vmin:-4.25, vmax:4.25, annName:'TSC mutation', legX:763, legTitleY:2369, legBoxY:[2379,2402],
   legItems:['Negative','TSC2_mutation'], totalX:907, totalY:2336},
  {key:'d', genes:hmDGenes, groups:hmDGroups, values:hmDValues, gaps:hmDGaps, ticks:hmDTicks, x0:1143, x1:1492, ann:[2364,2381], y0:2381, y1:3163,
   labelX:1502, labelSize:23, dendro:[1063,1141], cbar:[1654,1668,2364,2595], vmin:-3.2, vmax:3.65, annName:'TSC mutation', legX:1692, legTitleY:2369, legBoxY:[2379,2402],
   legItems:['Negative','TSC2_mutation'], totalX:1816, totalY:2336}
];

function drawHeatmap(h) {
  const g = mk('g', {});
  
  
  const nR = h.genes.length, nC = h.groups.length;
  const cw = (h.x1 - h.x0) / nC, rh = (h.y1 - h.y0) / nR;
  const colX = i => h.x0 + i * cw;
  const rowY = j => h.y0 + j * rh;

  const tot = txt('Total=903 variables', {x:h.totalX, y:h.totalY, 'font-size':27, fill:'#111', 'text-anchor':'end'}, g);
  
  

  h.groups.forEach((grp, i) => {
    const r = mk('rect', {x:colX(i), y:h.ann[0], width:cw, height:h.ann[1]-h.ann[0], fill:GROUPCOL[grp], stroke:'#999', 'stroke-width':1}, g);
    
    
  });
  const an = txt(h.annName, {x:h.labelX, y:(h.ann[0]+h.ann[1])/2 + 8, 'font-size':h.labelSize, fill:'#111'}, g);
  
  

  h.values.forEach((row, j) => row.forEach((v, i) => {
    const r = mk('rect', {x:colX(i), y:rowY(j), width:cw, height:rh, fill:heatColor(v, h.vmin, h.vmax), stroke:'#9a9a9a', 'stroke-width':1}, g);
    
    
  }));
  h.genes.forEach((nm, j) => {
    const t = txt(nm, {x:h.labelX, y:rowY(j) + rh/2 + h.labelSize*0.36, 'font-size':h.labelSize, fill:'#111'}, g);
    
    
  });

  const dg = mk('g', {}, g);
  
  
  const dL = h.dendro[0], dR = h.dendro[1], dW = dR - dL;
  function build(lo, hi) {
    if (lo === hi) return {x:dR, y:rowY(lo) + rh/2};
    let k = lo;
    for (let i = lo; i < hi; i++) if (h.gaps[i] > h.gaps[k]) k = i;
    const a = build(lo, k), b = build(k + 1, hi);
    const nx = dR - h.gaps[k] * dW;
    mk('path', {d:'M' + a.x + ',' + a.y + 'H' + nx + 'V' + b.y + 'H' + b.x, fill:'none', stroke:'#444', 'stroke-width':1.6}, dg);
    return {x:nx, y:(a.y + b.y) / 2};
  }
  build(0, nR - 1);

  const [cx0, cx1, cy0, cy1] = h.cbar;
  const gid = 'grad' + h.key;
  const defs = mk('defs', {}, g);
  const lgd = mk('linearGradient', {id:gid, x1:0, y1:0, x2:0, y2:1}, defs);
  const zeroFrac = h.vmax / (h.vmax - h.vmin);
  mk('stop', {offset:0, 'stop-color':'#ff0000'}, lgd);
  mk('stop', {offset:zeroFrac, 'stop-color':'#ffffff'}, lgd);
  mk('stop', {offset:1, 'stop-color':'#0000ff'}, lgd);
  const cb = mk('rect', {x:cx0, y:cy0, width:cx1-cx0, height:cy1-cy0, fill:'url(#' + gid + ')'}, g);
  
  
  const CY = linScale(h.vmax, h.vmin, cy0, cy1);
  h.ticks.forEach(v => {
    const t = txt(v < 0 ? '\u2212' + Math.abs(v) : String(v), {x:cx1 + 6, y:CY(v) + 8, 'font-size':23, fill:'#222'}, g);
    
    
  });

  const lt = txt(h.annName, {x:h.legX, y:h.legTitleY, 'font-size':23, fill:'#111'}, g);
  
  
  h.legItems.forEach((it, i) => {
    const by = h.legBoxY[i];
    const r = mk('rect', {x:h.legX, y:by, width:22, height:20, fill:GROUPCOL[it], stroke:'#aaa', 'stroke-width':1}, g);
    
    
    const t = txt(it, {x:h.legX + 30, y:by + 18, 'font-size':23, fill:'#111'}, g);
    
    
  });
}
heatmaps.forEach(drawHeatmap);
</script>
</body></html>
